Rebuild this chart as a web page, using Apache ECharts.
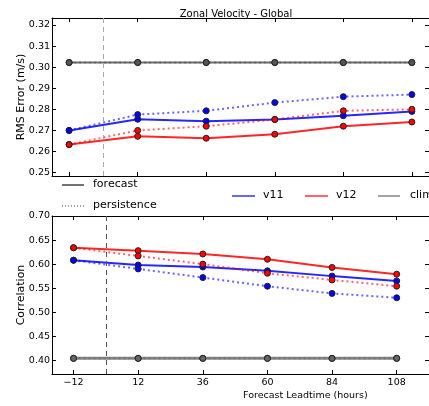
<!DOCTYPE html>
<html>
<head>
<meta charset="utf-8">
<script src="https://cdn.jsdelivr.net/npm/echarts@6/dist/echarts.min.js"></script>
<style>
  html, body { margin: 0; padding: 0; background: #fff; }
  #chart { width: 429px; height: 406px; }
</style>
</head>
<body>
<div id="chart"></div>
<script>
// lead times (hours)
const leadtimes = [-12, 12, 36, 60, 84, 108];

// RMS error (m/s)
const rmsV11Fcst = [0.270, 0.2753, 0.2744, 0.2752, 0.2770, 0.2790];
const rmsV11Pers = [0.270, 0.2775, 0.2793, 0.2832, 0.2860, 0.2870];
const rmsV12Fcst = [0.2633, 0.2672, 0.2663, 0.2682, 0.2720, 0.2740];
const rmsV12Pers = [0.2633, 0.2700, 0.2720, 0.2752, 0.2793, 0.2800];
const rmsClim = [0.3022, 0.3022, 0.3022, 0.3022, 0.3022, 0.3022];

// correlation
const corV11Fcst = [0.608, 0.598, 0.594, 0.586, 0.575, 0.565];
const corV11Pers = [0.608, 0.590, 0.572, 0.554, 0.539, 0.530];
const corV12Fcst = [0.634, 0.628, 0.621, 0.610, 0.593, 0.579];
const corV12Pers = [0.634, 0.617, 0.600, 0.581, 0.567, 0.554];
const corClim = [0.404, 0.404, 0.404, 0.404, 0.404, 0.404];

const xTicks = [-12, 12, 36, 60, 84, 108];
const rmsTicks = [0.25, 0.26, 0.27, 0.28, 0.29, 0.30, 0.31, 0.32];
const corTicks = [0.40, 0.45, 0.50, 0.55, 0.60, 0.65, 0.70];

const FONT = "DejaVu Sans";
const BLUE = "#0000ff";
const RED = "#ff0000";
const GREY = "#555555";

function pairs(vals) {
  return leadtimes.map((x, i) => [x, vals[i]]);
}

function xAxis(grid, pos, min, max, labels) {
  return {
    type: "value",
    gridIndex: grid,
    position: pos,
    min: min,
    max: max,
    axisLine: { show: true, onZero: false, lineStyle: { color: "#000", width: 1 } },
    axisTick: { show: true, inside: true, length: 4, customValues: xTicks, lineStyle: { color: "#000" } },
    axisLabel: {
      show: labels,
      customValues: xTicks,
      margin: 4,
      fontFamily: FONT,
      fontSize: 9.5,
      color: "#000",
      formatter: v => (v < 0 ? "\u2212" + Math.abs(v) : String(v))
    },
    splitLine: { show: false }
  };
}

function yAxis(grid, pos, min, max, ticks, labels, name) {
  return {
    type: "value",
    gridIndex: grid,
    position: pos,
    min: min,
    max: max,
    name: name || "",
    nameLocation: "middle",
    nameGap: 25,
    nameMoveOverlap: false,
    nameTextStyle: { fontFamily: FONT, fontSize: 11, color: "#000" },
    axisLine: { show: true, onZero: false, lineStyle: { color: "#000", width: 1 } },
    axisTick: { show: true, inside: true, length: 4, customValues: ticks, lineStyle: { color: "#000" } },
    axisLabel: {
      show: labels,
      customValues: ticks,
      margin: 2,
      fontFamily: FONT,
      fontSize: 9.5,
      color: "#000",
      formatter: v => v.toFixed(2)
    },
    splitLine: { show: false }
  };
}

function line(idx, vals, color, dotted, extra) {
  const s = {
    type: "line",
    xAxisIndex: idx,
    yAxisIndex: idx,
    data: pairs(vals),
    symbol: "circle",
    symbolSize: 6,
    lineStyle: dotted
      ? { color: color, width: 2, type: [2, 3], opacity: 0.6 }
      : { color: color, width: 2, opacity: 0.85 },
    itemStyle: { color: color, borderColor: "#222", borderWidth: 1 },
    emphasis: { disabled: true },
    animation: false
  };
  return Object.assign(s, extra || {});
}

function vline(color) {
  return {
    markLine: {
      silent: true,
      symbol: "none",
      label: { show: false },
      lineStyle: { color: color, type: [5, 4], width: 1 },
      data: [{ xAxis: 0 }]
    }
  };
}

const chart = echarts.init(document.getElementById("chart"));
chart.setOption({
  backgroundColor: "#fff",
  animation: false,
  title: {
    text: "Zonal Velocity - Global",
    left: 231,
    top: 4,
    textAlign: "center",
    textStyle: { fontFamily: FONT, fontSize: 10, fontWeight: "normal", color: "#000" }
  },
  grid: [
    { left: 52, top: 18, width: 379, height: 158 },
    { left: 52, top: 216, width: 379, height: 158 }
  ],
  xAxis: [
    xAxis(0, "bottom", -18, 114, false),
    xAxis(1, "bottom", -20, 120, true),
    xAxis(0, "top", -18, 114, false),
    xAxis(1, "top", -20, 120, false)
  ],
  yAxis: [
    yAxis(0, "left", 0.2484, 0.3233, rmsTicks, true, "RMS Error (m/s)"),
    yAxis(1, "left", 0.3715, 0.70, corTicks, true, "Correlation"),
    yAxis(0, "right", 0.2484, 0.3233, rmsTicks, false),
    yAxis(1, "right", 0.3715, 0.70, corTicks, false)
  ],
  series: [
    line(0, rmsClim, GREY, true, vline("#aaaaaa")),
    line(0, rmsClim, GREY, false),
    line(0, rmsV11Fcst, BLUE, false),
    line(0, rmsV11Pers, BLUE, true),
    line(0, rmsV12Fcst, RED, false),
    line(0, rmsV12Pers, RED, true),
    line(1, corClim, "#666666", true, vline("#555555")),
    line(1, corClim, "#666666", false, { lineStyle: { color: "#666666", width: 3, opacity: 0.8 } }),
    line(1, corV11Fcst, BLUE, false),
    line(1, corV11Pers, BLUE, true),
    line(1, corV12Fcst, RED, false),
    line(1, corV12Pers, RED, true)
  ],
  graphic: [
    { type: "line", shape: { x1: 62, y1: 185, x2: 84, y2: 185 }, style: { stroke: "#444", lineWidth: 1.5 } },
    { type: "text", left: 93, top: 179, style: { text: "forecast", font: "11px DejaVu Sans", fill: "#000" } },
    { type: "line", shape: { x1: 62, y1: 206, x2: 84, y2: 206 }, style: { stroke: "#444", lineWidth: 1, lineDash: [1, 2] } },
    { type: "text", left: 93, top: 200, style: { text: "persistence", font: "11px DejaVu Sans", fill: "#000" } },
    { type: "line", shape: { x1: 232, y1: 196, x2: 255, y2: 196 }, style: { stroke: BLUE, lineWidth: 1.2 } },
    { type: "text", left: 263, top: 190, style: { text: "v11", font: "11px DejaVu Sans", fill: "#000" } },
    { type: "line", shape: { x1: 305, y1: 196, x2: 328, y2: 196 }, style: { stroke: RED, lineWidth: 1.2 } },
    { type: "text", left: 336, top: 190, style: { text: "v12", font: "11px DejaVu Sans", fill: "#000" } },
    { type: "line", shape: { x1: 378, y1: 196, x2: 400, y2: 196 }, style: { stroke: "#666", lineWidth: 1.2 } },
    { type: "text", left: 410, top: 190, style: { text: "clim", font: "11px DejaVu Sans", fill: "#000" } },
    { type: "text", left: 243, top: 391, style: { text: "Forecast Leadtime (hours)", font: "9.5px DejaVu Sans", fill: "#000", textAlign: "center" } }
  ]
});
</script>
</body>
</html>
